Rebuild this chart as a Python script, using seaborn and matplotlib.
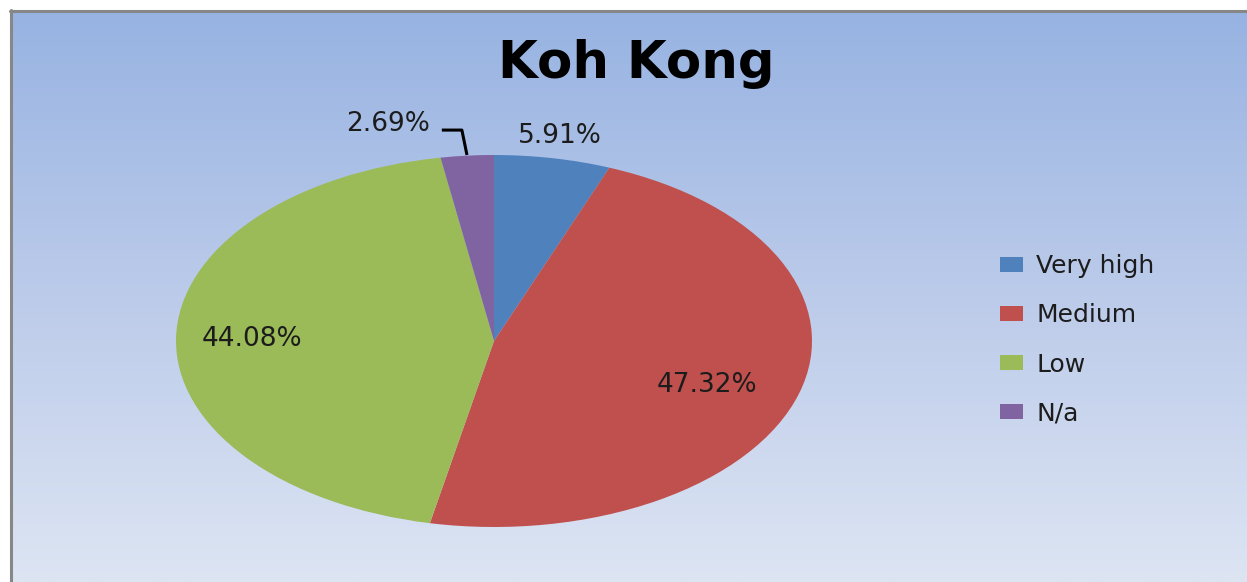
import numpy as np
import matplotlib
matplotlib.use("Agg")
import matplotlib.pyplot as plt
from matplotlib.lines import Line2D
from matplotlib.colors import LinearSegmentedColormap
import seaborn as sns

# Share of area by category
categories = ["Very high", "Medium", "Low", "N/a"]
shares = [5.91, 47.32, 44.08, 2.69]
title = "Koh Kong"

palette = ["#4f81bd", "#c0504d", "#9bbb59", "#8064a2"]

sns.set_theme(style="white")
plt.rcParams["font.family"] = ["DejaVu Sans"]

W, H = 1247, 582
fig = plt.figure(figsize=(W / 100, H / 100), dpi=100)
fig.patch.set_facecolor("white")

# gradient backdrop of the chart area
bg = fig.add_axes([10 / W, 0, (W - 10) / W, (H - 10) / H])
grad = LinearSegmentedColormap.from_list("bg", ["#97b3e2", "#bccbea", "#dde5f3"])
bg.imshow(np.linspace(0, 1, 256).reshape(-1, 1), cmap=grad, aspect="auto",
          extent=[0, 1, 0, 1], origin="upper")
bg.set_axis_off()

# chart-area frame (top and left edges)
fig.add_artist(Line2D([10 / W, 1], [1 - 10.5 / H, 1 - 10.5 / H], color="#878787",
                      lw=2.2, transform=fig.transFigure))
fig.add_artist(Line2D([10.5 / W, 10.5 / W], [0, 1 - 10 / H], color="#878787",
                      lw=2.2, transform=fig.transFigure))

# pie, drawn into a stretched box so it becomes an ellipse
cx, cy, rx, ry = 494, 341, 318, 186
ax = fig.add_axes([(cx - rx) / W, (H - cy - ry) / H, 2 * rx / W, 2 * ry / H])
wedges, _ = ax.pie(shares, colors=palette, startangle=90, counterclock=False,
                   radius=1, wedgeprops=dict(linewidth=0))
ax.set_xlim(-1, 1)
ax.set_ylim(-1, 1)
ax.set_aspect("auto")
ax.set_axis_off()

label_pos = [(1.12, 0.0), (0.70, -0.04), (0.76, 0.0), None]
for w, val, pos in zip(wedges, shares, label_pos):
    if pos is None:
        continue
    r, dy = pos
    mid = np.deg2rad((w.theta1 + w.theta2) / 2)
    ax.text(r * np.cos(mid), r * np.sin(mid) + dy, f"{val:.2f}%", ha="center",
            va="center", fontsize=19, color="#1c1c1c", clip_on=False)

# small slice: label outside with an elbow leader
ax.text(-0.20, 1.165, f"{shares[3]:.2f}%", ha="right", va="center",
        fontsize=19, color="#1c1c1c", clip_on=False)
ax.plot([-0.164, -0.101, -0.085], [1.134, 1.134, 1.0], color="black", lw=2.2,
        clip_on=False, solid_capstyle="butt")

fig.text(636 / W, 1 - 78 / H, title, ha="center", va="baseline",
         fontsize=37, fontweight="bold", color="black")

fig.legend(wedges, categories, loc="center left",
           bbox_to_anchor=(1000 / W, 1 - 340 / H), bbox_transform=fig.transFigure,
           frameon=False, fontsize=18, handlelength=0.9, handleheight=0.55,
           handletextpad=0.55, labelspacing=1.0, borderpad=0, borderaxespad=0,
           labelcolor="#1c1c1c")

fig.savefig("out.png", dpi=100)
